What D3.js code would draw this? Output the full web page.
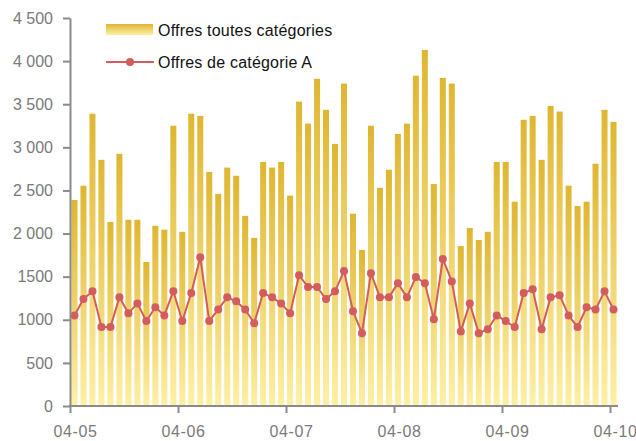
<!DOCTYPE html>
<html>
<head>
<meta charset="utf-8">
<script src="https://cdn.jsdelivr.net/npm/d3@7"></script>
<style>
  body { margin: 0; background: #fff; }
  svg { display: block; font-family: "Liberation Sans", Arial, sans-serif; }
</style>
</head>
<body>
<div id="chart"></div>
<script>
// offres publiées, une barre par relevé
const totalOffers = [2390, 2555, 3390, 2855, 2135, 2925, 2160, 2160, 1670, 2090,
  2045, 3250, 2020, 3390, 3365, 2715, 2460, 2765, 2670, 2205,
  1950, 2830, 2765, 2830, 2440, 3530, 3275, 3795, 3435, 3040,
  3740, 2230, 1810, 3250, 2530, 2740, 3155, 3275, 3830, 4130,
  2575, 3805, 3740, 1855, 2065, 1925, 2020, 2830, 2830, 2370,
  3320, 3365, 2855, 3480, 3415, 2555, 2320, 2370, 2810, 3435, 3295]

const catAOffers = [1050, 1240, 1330, 915, 915, 1260, 1075, 1190, 985, 1145,
  1050, 1330, 985, 1310, 1725, 985, 1120, 1260, 1215, 1120,
  960, 1310, 1260, 1190, 1075, 1515, 1380, 1380, 1240, 1330,
  1565, 1100, 845, 1540, 1260, 1260, 1425, 1260, 1495, 1425,
  1005, 1705, 1445, 865, 1190, 845, 890, 1050, 985, 915,
  1310, 1355, 890, 1260, 1285, 1050, 915, 1145, 1120, 1330, 1120]

const monthLabels = ["04-05", "04-06", "04-07", "04-08", "04-09", "04-10"]
const yTicks = [0, 500, 1000, 1500, 2000, 2500, 3000, 3500, 4000, 4500]

const width = 636, height = 441
const margin = ({top: 18, right: 18, bottom: 35, left: 70})
const axisColor = "#8a8a8a", labelColor = "#7a7a7a"
const lineColor = "#d35d5d"

const svg = d3.select("#chart")
  .append("svg")
  .attr("width", width)
  .attr("height", height)
  .attr("viewBox", [0, 0, width, height])

const defs = svg.append("defs")
const grad = defs.append("linearGradient")
  .attr("id", "barGrad")
  .attr("x1", 0).attr("y1", 0).attr("x2", 0).attr("y2", 1)
grad.append("stop").attr("offset", "0%").attr("stop-color", "#dfb631")
grad.append("stop").attr("offset", "100%").attr("stop-color", "#fdf0a6")

const idx = d3.range(totalOffers.length)

const x = d3.scaleBand()
  .domain(idx)
  .range([margin.left, width - margin.right])
  .paddingInner(0.33)
  .paddingOuter(0.165)

const xMonth = d3.scalePoint()
  .domain(monthLabels)
  .range([margin.left, 610])

const y = d3.scaleLinear()
  .domain([0, 4500])
  .range([height - margin.bottom, margin.top])

const fmt = d => d >= 2000 ? d3.format(",")(d).replace(",", " ") : String(d)

// barres
svg.append("g")
  .selectAll("rect")
  .data(idx)
  .join("rect")
  .attr("x", i => x(i))
  .attr("width", x.bandwidth())
  .attr("y", i => y(totalOffers[i]))
  .attr("height", i => y(0) - y(totalOffers[i]))
  .attr("fill", "url(#barGrad)")

// ligne catégorie A
const line = d3.line()
  .x((d, i) => x(i) + x.bandwidth() / 2)
  .y(d => y(d))

svg.append("path")
  .datum(catAOffers)
  .attr("fill", "none")
  .attr("stroke", lineColor)
  .attr("stroke-width", 2)
  .attr("stroke-linejoin", "round")
  .attr("d", line)

svg.append("g")
  .selectAll("circle")
  .data(catAOffers)
  .join("circle")
  .attr("cx", (d, i) => x(i) + x.bandwidth() / 2)
  .attr("cy", d => y(d))
  .attr("r", 4)
  .attr("fill", lineColor)

// axes
const yAxis = g => g
  .attr("transform", `translate(${margin.left},0)`)
  .call(d3.axisLeft(y).tickValues(yTicks).tickFormat(fmt).tickSize(7).tickPadding(10).tickSizeOuter(0))
  .call(g => g.select(".domain").attr("stroke", axisColor).attr("stroke-width", 2))
  .call(g => g.selectAll(".tick line").attr("stroke", axisColor).attr("stroke-width", 2))
  .call(g => g.selectAll(".tick text")
    .attr("fill", labelColor)
    .attr("font-size", 16)
    .attr("font-family", "Liberation Sans, Arial, sans-serif"))

const xAxis = g => g
  .attr("transform", `translate(0,${height - margin.bottom})`)
  .call(d3.axisBottom(xMonth).tickSize(7).tickPadding(13))
  .call(g => g.select(".domain").remove())
  .call(g => g.selectAll(".tick line").attr("stroke", axisColor).attr("stroke-width", 2))
  .call(g => g.selectAll(".tick text")
    .attr("fill", labelColor)
    .attr("font-size", 16)
    .attr("letter-spacing", 0.6)
    .attr("dx", 5)
    .attr("font-family", "Liberation Sans, Arial, sans-serif"))
  .call(g => g.append("line")
    .attr("x1", margin.left - 1)
    .attr("x2", width - margin.right)
    .attr("stroke", axisColor)
    .attr("stroke-width", 2))

svg.append("g").call(xAxis)
svg.append("g").call(yAxis)

// légende
const legend = svg.append("g")
  .attr("font-size", 16)
  .attr("letter-spacing", 0.2)
  .attr("fill", "#111")

legend.append("rect")
  .attr("x", 106).attr("y", 24)
  .attr("width", 47).attr("height", 11)
  .attr("fill", "url(#barGrad)")
legend.append("text")
  .attr("x", 158).attr("y", 35.5)
  .text("Offres toutes catégories")

legend.append("line")
  .attr("x1", 106).attr("x2", 154)
  .attr("y1", 62).attr("y2", 62)
  .attr("stroke", lineColor)
  .attr("stroke-width", 2)
legend.append("circle")
  .attr("cx", 130).attr("cy", 62).attr("r", 4)
  .attr("fill", lineColor)
legend.append("text")
  .attr("x", 158).attr("y", 67.5)
  .text("Offres de catégorie A")
</script>
</body>
</html>
